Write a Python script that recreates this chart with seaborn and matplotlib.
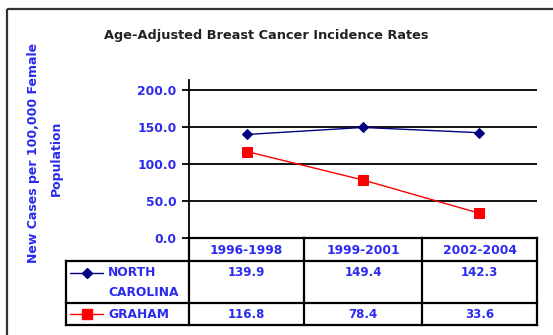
import matplotlib
matplotlib.use("Agg")
import matplotlib.pyplot as plt
import seaborn as sns
import pandas as pd
from matplotlib.lines import Line2D
from matplotlib.patches import Rectangle

# Data
periods = ["1996-1998", "1999-2001", "2002-2004"]
north_carolina = [139.9, 149.4, 142.3]
graham = [116.8, 78.4, 33.6]
y_ticks = [0.0, 50.0, 100.0, 150.0, 200.0]

sns.set_theme(style="white")
plt.rcParams["font.family"] = ["DejaVu Sans"]

BLUE = "#2a2af0"
NAVY = "#000080"
RED = "#ff0000"

W, H = 553, 335
fig = plt.figure(figsize=(W / 100, H / 100), dpi=100)


def fx(x):
    return x / W


def fy(y):
    return 1 - y / H


# Plot area: y axis at x=189, zero line at y=238, axis top at y=80
top_px, zero_px, y200_px = 80, 238, 90
ax = fig.add_axes([fx(189), fy(zero_px), fx(537) - fx(189), (zero_px - top_px) / H])
ax.set_facecolor("none")

df = pd.DataFrame({
    "period": periods * 2,
    "value": north_carolina + graham,
    "series": ["nc"] * 3 + ["graham"] * 3,
})

sns.lineplot(data=df[df.series == "nc"], x="period", y="value", ax=ax,
             color=NAVY, lw=1.0, marker="D", markersize=5.5,
             markeredgecolor=NAVY, sort=False, zorder=5)
sns.lineplot(data=df[df.series == "graham"], x="period", y="value", ax=ax,
             color=RED, lw=1.0, marker="s", markersize=7,
             markeredgecolor=RED, sort=False, zorder=5)

ax.set_xlim(-0.5, 2.5)
ax.set_ylim(0, 200 * (zero_px - top_px) / (zero_px - y200_px))
ax.set_yticks(y_ticks)
ax.set_yticklabels([f"{v:.1f}" for v in y_ticks], color=BLUE,
                   fontsize=8.8, fontweight="bold")
ax.set_xticks([])
ax.set_xlabel("")
ax.set_ylabel("")
ax.yaxis.grid(True, color="black", lw=1.3)
ax.xaxis.grid(False)
for s in ["top", "right", "bottom"]:
    ax.spines[s].set_visible(False)
ax.spines["left"].set_color("black")
ax.spines["left"].set_linewidth(1.3)
ax.tick_params(axis="y", which="major", direction="out", length=5,
               width=1.3, color="black", pad=4, left=True)

# Overlay for frame, title, axis label and data table
ov = fig.add_axes([0, 0, 1, 1], zorder=-1)
ov.set_xlim(0, W)
ov.set_ylim(H, 0)
ov.axis("off")

ov.add_patch(Rectangle((6.5, 9), W + 10, H + 10, fill=False,
                       edgecolor="#333333", lw=1.6))

ov.text(266.5, 35, "Age-Adjusted Breast Cancer Incidence Rates",
        ha="center", va="center", fontsize=9.3, fontweight="bold",
        color="#222222")

ov.text(34, 153, "New Cases per 100,000 Female", rotation=90,
        ha="center", va="center", fontsize=9.0, fontweight="bold", color=BLUE)
ov.text(56, 158, "Population", rotation=90,
        ha="center", va="center", fontsize=9.0, fontweight="bold", color=BLUE)

# Table geometry
col_x = [189, 304, 422, 537]
head_top, head_bot, row1_bot, row2_bot = 238, 261, 303, 325
left_x = 66
lk = dict(color="black", lw=1.6, solid_capstyle="projecting")

ov.plot([col_x[0], col_x[-1]], [head_top, head_top], **lk)
for yy in (head_bot, row1_bot, row2_bot):
    ov.plot([left_x, col_x[-1]], [yy, yy], **lk)
for xx in col_x:
    ov.plot([xx, xx], [head_top, row2_bot], **lk)
ov.plot([left_x, left_x], [head_bot, row2_bot], **lk)

TFS = 8.8
centers = [(col_x[i] + col_x[i + 1]) / 2 for i in range(3)]
for cx, p in zip(centers, periods):
    ov.text(cx, 250, p, ha="center", va="center", fontsize=TFS,
            fontweight="bold", color=BLUE)
for cx, v in zip(centers, north_carolina):
    ov.text(cx, 273, f"{v:.1f}", ha="center", va="center", fontsize=8.5,
            fontweight="bold", color=BLUE)
for cx, v in zip(centers, graham):
    ov.text(cx, 314, f"{v:.1f}", ha="center", va="center", fontsize=8.5,
            fontweight="bold", color=BLUE)

# Legend keys inside the table
ov.add_line(Line2D([70, 103], [273, 273], color=NAVY, lw=1.0))
ov.plot([86.5], [273], marker="D", markersize=5, color=NAVY)
ov.add_line(Line2D([70, 103], [314, 314], color=RED, lw=1.0))
ov.plot([86.5], [314], marker="s", markersize=6.5, color=RED)

ov.text(108, 273, "NORTH", ha="left", va="center", fontsize=TFS,
        fontweight="bold", color=BLUE)
ov.text(108, 293, "CAROLINA", ha="left", va="center", fontsize=TFS,
        fontweight="bold", color=BLUE)
ov.text(108, 314, "GRAHAM", ha="left", va="center", fontsize=TFS,
        fontweight="bold", color=BLUE)

fig.savefig("out.png", dpi=100, facecolor="white")
